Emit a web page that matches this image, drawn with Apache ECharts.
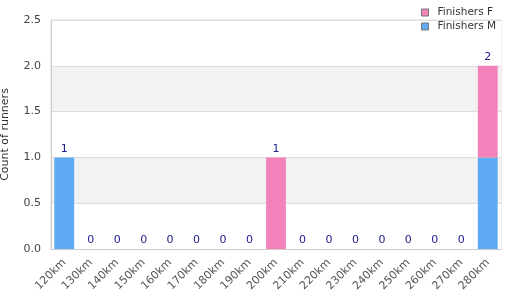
<!DOCTYPE html>
<html>
<head>
<meta charset="utf-8">
<script src="https://cdn.jsdelivr.net/npm/echarts@6/dist/echarts.min.js"></script>
<style>
  html, body { margin: 0; padding: 0; background: #fff; }
  #chart { width: 510px; height: 300px; }
</style>
</head>
<body>
<div id="chart"></div>
<script>
const categories = ['120km', '130km', '140km', '150km', '160km', '170km', '180km', '190km', '200km',
    '210km', '220km', '230km', '240km', '250km', '260km', '270km', '280km']
const finishersM = [1, 0, 0, 0, 0, 0, 0, 0, 0, 0, 0, 0, 0, 0, 0, 0, 1]
const finishersF = [0, 0, 0, 0, 0, 0, 0, 0, 1, 0, 0, 0, 0, 0, 0, 0, 1]
const yTicks = [0, 0.5, 1, 1.5, 2, 2.5]

const totals = finishersM.map((m, i) => m + finishersF[i])

const chart = echarts.init(document.getElementById('chart'))

const options = {
    animation: false,
    textStyle: { fontFamily: 'DejaVu Sans' },
    legend: {
        orient: 'vertical',
        left: 416,
        top: 2,
        icon: 'rect',
        itemWidth: 7,
        itemHeight: 7,
        itemGap: 3,
        textStyle: { color: '#333', fontSize: 10.5, padding: [0, 0, 0, 4] },
        data: [
            { name: 'Finishers F', itemStyle: { borderColor: '#777', borderWidth: 1 } },
            { name: 'Finishers M', itemStyle: { borderColor: '#777', borderWidth: 1 } }
        ]
    },
    grid: {
        left: 51,
        right: 9,
        top: 20,
        bottom: 51,
        outerBoundsMode: 'none',
        show: true,
        borderColor: '#ddd',
        borderWidth: 1
    },
    xAxis: {
        type: 'category',
        data: categories,
        axisLine: { lineStyle: { color: '#ccc' } },
        axisTick: { show: false },
        axisLabel: { rotate: 45, color: '#555', fontSize: 11, interval: 0, margin: 12 }
    },
    yAxis: {
        type: 'value',
        min: yTicks[0],
        max: yTicks[yTicks.length - 1],
        interval: 0.5,
        name: 'Count of runners',
        nameLocation: 'middle',
        nameGap: 40,
        nameTextStyle: { color: '#333', fontSize: 11 },
        axisLine: { show: true, lineStyle: { color: '#ccc' } },
        axisLabel: { color: '#444', fontSize: 11, margin: 10, formatter: v => v.toFixed(1) },
        splitLine: { lineStyle: { color: '#ddd' } },
        splitArea: { show: true, areaStyle: { color: ['#ffffff', '#f2f2f2'] } }
    },
    series: [
        {
            name: 'Finishers M',
            type: 'bar',
            stack: 'total',
            barCategoryGap: '25%',
            itemStyle: { color: '#5fa9f2' },
            data: finishersM
        },
        {
            name: 'Finishers F',
            type: 'bar',
            stack: 'total',
            itemStyle: { color: '#f283ba' },
            label: {
                show: true,
                position: 'top',
                distance: 3,
                color: '#1a1a8c',
                fontSize: 11,
                formatter: p => totals[p.dataIndex]
            },
            data: finishersF
        }
    ]
}

chart.setOption(options)
</script>
</body>
</html>
